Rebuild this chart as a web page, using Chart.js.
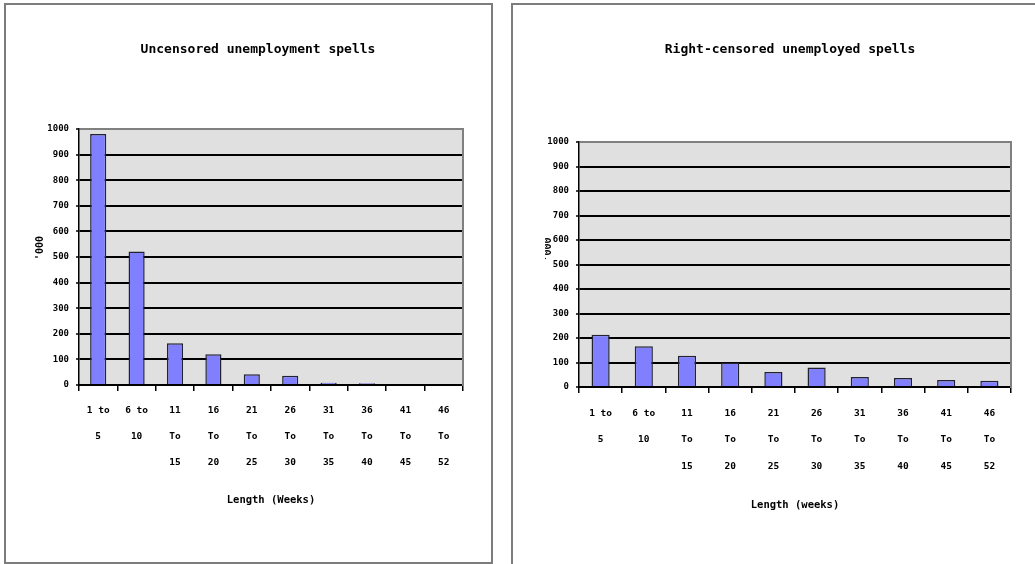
<!DOCTYPE html>
<html>
<head>
<meta charset="utf-8">
<title>Unemployment spells by length</title>
<script src="https://cdn.jsdelivr.net/npm/chart.js@4.4.1/dist/chart.umd.min.js"></script>
<style>
  html, body { margin: 0; padding: 0; background: #fff; width: 1035px; height: 564px; overflow: hidden; }
  .panel { position: absolute; border: 2px solid #7c7c7c; box-sizing: border-box; }
  #panelLeft { left: 4px; top: 3px; width: 489px; height: 561px; }
  #panelRight { left: 511px; top: 3px; width: 620px; height: 640px; }
  canvas { position: absolute; top: 0; }
  #uncensored { left: 16px; }
  #censored { left: 545px; }
</style>
</head>
<body>
<div class="panel" id="panelLeft"></div>
<div class="panel" id="panelRight"></div>
<canvas id="uncensored" width="484" height="564"></canvas>
<canvas id="censored" width="490" height="564"></canvas>
<script>
// Spell length bands (weeks), one multi-line label per band
const bandLabels = [
  ['1 to', '5'], ['6 to', '10'],
  ['11', 'To', '15'], ['16', 'To', '20'], ['21', 'To', '25'], ['26', 'To', '30'],
  ['31', 'To', '35'], ['36', 'To', '40'], ['41', 'To', '45'], ['46', 'To', '52']
];

// Number of spells in each band, thousands
const uncensoredSpells = [980, 521, 163, 120, 42, 36, 9, 7, 0, 0];
const rightCensoredSpells = [213, 166, 128, 100, 61, 80, 41, 37, 29, 26];

// Value axis range and step
const yMin = 0;
const yMax = 1000;
const yStep = 100;

const FONT = "'DejaVu Sans Mono', 'Liberation Mono', monospace";

// Grey fill behind the plot area
const plotBackground = {
  id: 'plotBackground',
  beforeDraw(chart) {
    const { ctx, chartArea: a } = chart;
    ctx.save();
    ctx.fillStyle = '#e0e0e0';
    ctx.fillRect(a.left, a.top, a.right - a.left, a.bottom - a.top);
    ctx.restore();
  }
};

function spellChart(canvasId, s) {
  return new Chart(document.getElementById(canvasId), {
    type: 'bar',
    data: {
      labels: bandLabels,
      datasets: [{
        data: s.values,
        yAxisID: 'y',
        backgroundColor: '#8080ff',
        borderColor: '#222233',
        borderWidth: 1.5,
        barPercentage: 0.42,
        categoryPercentage: 1
      }]
    },
    options: {
      responsive: false,
      animation: false,
      devicePixelRatio: 1,
      layout: { padding: { left: 0, right: 0, top: 0, bottom: s.padBottom } },
      plugins: {
        legend: { display: false },
        tooltip: { enabled: false },
        title: {
          display: true,
          text: s.title,
          color: '#000',
          font: { family: FONT, size: 13, weight: 'bold', lineHeight: 1.2 },
          padding: { top: 42.2, bottom: s.titleGap }
        }
      },
      scales: {
        x: {
          type: 'category',
          offset: true,
          grid: {
            display: true, offset: true, drawOnChartArea: false, drawTicks: true,
            tickLength: 6, color: '#000', lineWidth: 1.5
          },
          border: { display: true, color: '#000', width: 2 },
          ticks: {
            autoSkip: false, maxRotation: 0, minRotation: 0,
            padding: s.xTickPad, color: '#000',
            font: { family: FONT, size: 9.5, weight: 'bold', lineHeight: s.xLineHeight + 'px' }
          },
          title: {
            display: true, text: s.xTitle, color: '#000',
            font: { family: FONT, size: 10.5, weight: 'bold', lineHeight: '14px' },
            padding: { top: 0, bottom: s.xTitlePad }
          },
          afterFit(scale) { scale.height = s.xHeight; }
        },
        y: {
          type: 'linear',
          position: 'left',
          min: yMin,
          max: yMax,
          ticks: {
            stepSize: yStep, padding: 7, color: '#000',
            format: { useGrouping: false },
            font: { family: FONT, size: 9, weight: 'bold' }
          },
          grid: {
            color: (c) => (c.tick && c.tick.value === yMax ? '#808080' : '#000'),
            lineWidth: 2, tickLength: 3, tickColor: '#000', tickWidth: 1.5
          },
          border: { display: true, color: '#000', width: 1.5 },
          title: {
            display: true, text: s.yTitle, color: '#000',
            font: { family: FONT, size: 10, weight: 'bold', lineHeight: '6px' },
            padding: { top: s.yTitlePad, bottom: 0 }
          },
          afterFit(scale) { scale.width = s.yWidth; }
        },
        frame: {
          type: 'linear',
          position: 'right',
          min: yMin,
          max: yMax,
          display: true,
          grid: { display: false },
          ticks: { display: false },
          border: { display: true, color: '#808080', width: 2 },
          afterFit(scale) { scale.width = s.rightWidth; }
        }
      }
    },
    plugins: [plotBackground]
  });
}

spellChart('uncensored', {
  values: uncensoredSpells,
  title: 'Uncensored unemployment spells',
  xTitle: 'Length (Weeks)',
  yTitle: "   '000",
  titleGap: 71.2,
  yWidth: 63,
  rightWidth: 37,
  yTitlePad: 21,
  xTickPad: 7,
  xLineHeight: 26,
  xHeight: 130,
  xTitlePad: 8,
  padBottom: 49
});

spellChart('censored', {
  values: rightCensoredSpells,
  title: 'Right-censored unemployed spells',
  xTitle: 'Length (weeks)',
  yTitle: "     '000",
  titleGap: 84.2,
  yWidth: 34,
  rightWidth: 24,
  yTitlePad: 0,
  xTickPad: 7.25,
  xLineHeight: 26.5,
  xHeight: 135,
  xTitlePad: 10,
  padBottom: 42
});
</script>
</body>
</html>
